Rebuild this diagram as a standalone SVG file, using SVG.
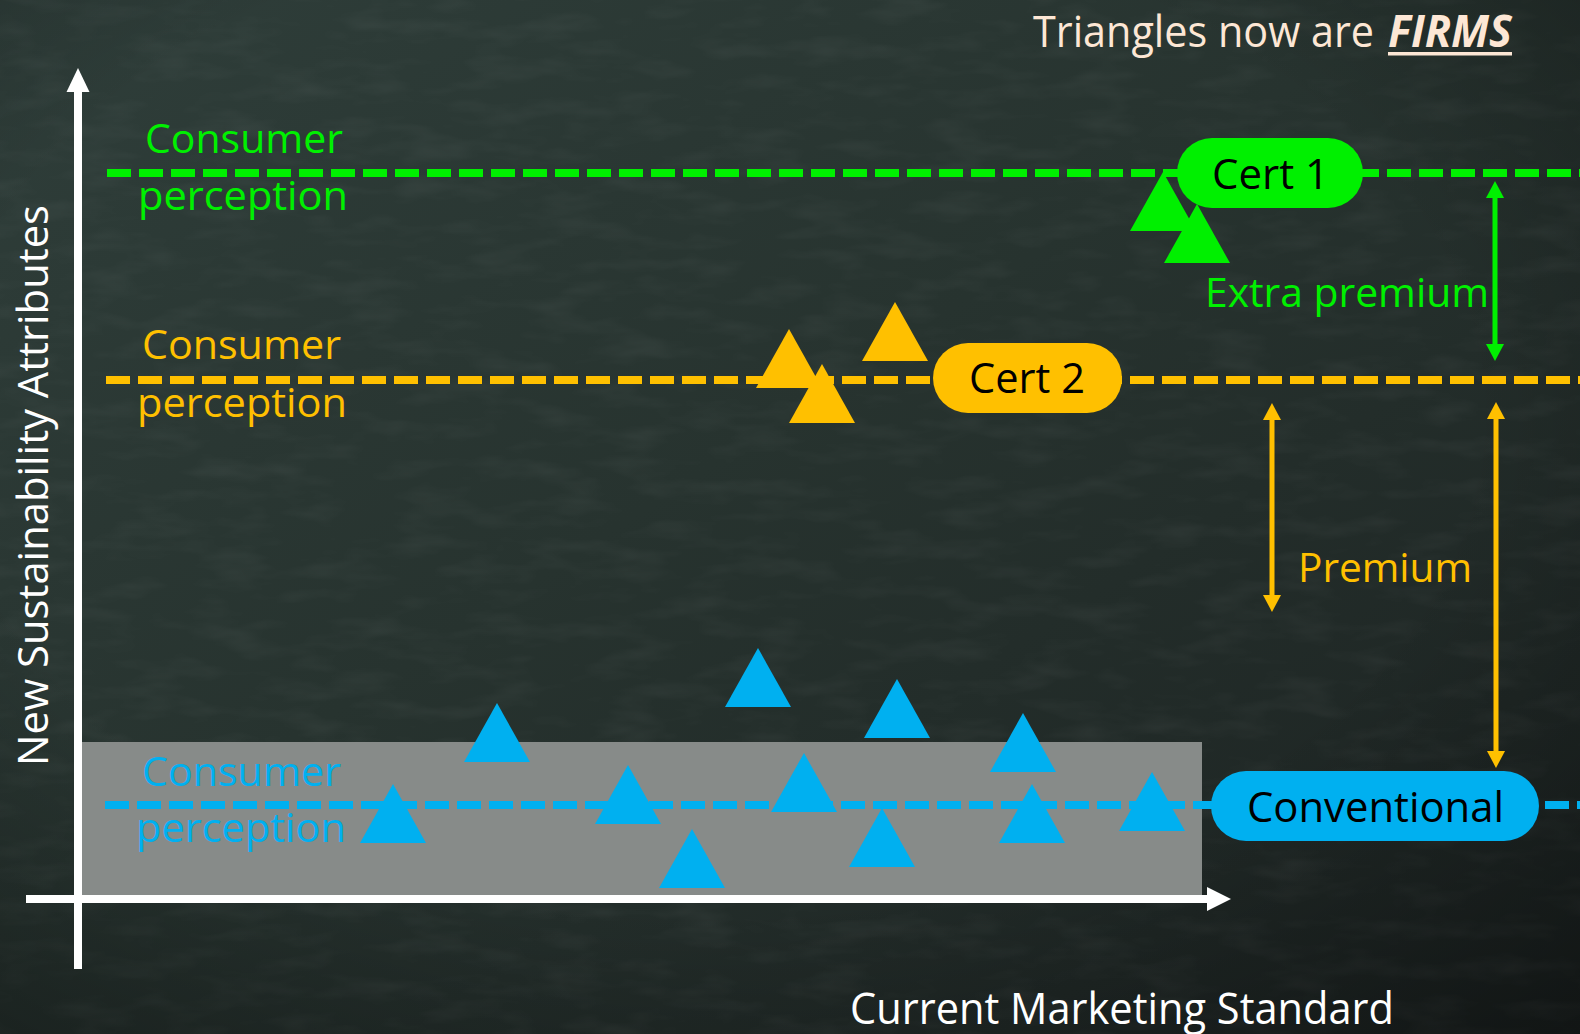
<svg xmlns="http://www.w3.org/2000/svg" xmlns:xlink="http://www.w3.org/1999/xlink" width="1580" height="1034" viewBox="0 0 1580 1034">
  <defs>
    <linearGradient id="board" x1="0" y1="0" x2="1" y2="1">
      <stop offset="0" stop-color="#2f3e3a"/>
      <stop offset="0.45" stop-color="#27332f"/>
      <stop offset="1" stop-color="#1b2120"/>
    </linearGradient>
    <radialGradient id="vignette" cx="0.45" cy="0.4" r="0.8">
      <stop offset="0.6" stop-color="#000" stop-opacity="0"/>
      <stop offset="1" stop-color="#000" stop-opacity="0.35"/>
    </radialGradient>
    <filter id="chalk" x="0" y="0" width="100%" height="100%">
      <feTurbulence type="fractalNoise" baseFrequency="0.015 0.05" numOctaves="3" seed="7"/>
      <feColorMatrix type="matrix" values="0 0 0 0 1  0 0 0 0 1  0 0 0 0 1  0 0 0 0.5 -0.22"/>
    </filter>
    <path id="tri" d="M0,0 L33,59 L-33,59 Z"/>
    <marker id="headG" viewBox="0 0 17 18" refX="1" refY="9" markerUnits="userSpaceOnUse" markerWidth="17" markerHeight="18" orient="auto-start-reverse">
      <path d="M0,0 L17,9 L0,18 Z" fill="#00f000"/>
    </marker>
    <marker id="headO" viewBox="0 0 17 18" refX="1" refY="9" markerUnits="userSpaceOnUse" markerWidth="17" markerHeight="18" orient="auto-start-reverse">
      <path d="M0,0 L17,9 L0,18 Z" fill="#ffc000"/>
    </marker>
    <style>
      .txt { font-family: "Open Sans", "Noto Sans", "Liberation Sans", sans-serif; }
      .lbl { font-size: 40px; }
      .big { font-size: 42px; }
      .g { fill: #00f000; }
      .o { fill: #ffc000; }
      .b { fill: #00b0f0; }
      .w { fill: #ffffff; }
      .k { fill: #000000; }
      .cream { fill: #fde7d5; }
      .dash { fill: none; stroke-width: 8; stroke-dasharray: 24 8; }
      .dg { stroke: #00f000; }
      .do { stroke: #ffc000; }
      .db { stroke: #00b0f0; }
      .arr { fill: none; stroke-width: 5; }
      .ag { stroke: #00f000; marker-start: url(#headG); marker-end: url(#headG); }
      .ao { stroke: #ffc000; marker-start: url(#headO); marker-end: url(#headO); }
      .axis { stroke: #ffffff; stroke-width: 8; fill: none; }
    </style>
  </defs>

  <!-- chalkboard -->
  <rect width="1580" height="1034" fill="url(#board)"/>
  <rect width="1580" height="1034" filter="url(#chalk)" opacity="0.18"/>
  <rect width="1580" height="1034" fill="url(#vignette)"/>

  <!-- shaded band of conventional firms -->
  <rect id="conventional-band" x="80" y="742" width="1122" height="154" fill="#878b89"/>

  <!-- title -->
  <g id="title" class="txt">
    <text class="cream" x="1033" y="47" font-size="44" textLength="341" lengthAdjust="spacingAndGlyphs">Triangles now are</text>
    <text class="cream" x="1388" y="47" font-size="44" font-weight="bold" font-style="italic" textLength="124" lengthAdjust="spacingAndGlyphs">FIRMS</text>
    <rect x="1388" y="52" width="124" height="3.5" class="cream"/>
  </g>

  <!-- axes -->
  <g id="axes">
    <line class="axis" x1="78" y1="969" x2="78" y2="90"/>
    <polygon class="w" points="66.5,92 89.5,92 78,68"/>
    <line class="axis" x1="26" y1="899" x2="1209" y2="899"/>
    <polygon class="w" points="1207,887 1207,911 1231,899"/>
    <text class="txt w" transform="translate(48,766) rotate(-90)" font-size="42" textLength="561" lengthAdjust="spacingAndGlyphs">New Sustainability Attributes</text>
    <text class="txt w" x="850" y="1024" font-size="44" textLength="544" lengthAdjust="spacingAndGlyphs">Current Marketing Standard</text>
  </g>

  <!-- perception levels and premium spans -->
  <g id="connectors">
    <line class="dash dg" x1="107" y1="173" x2="1580" y2="173"/>
    <line class="dash do" x1="106" y1="380" x2="1580" y2="380"/>
    <line class="dash db" x1="105" y1="805" x2="1580" y2="805"/>
    <line class="arr ag" x1="1495" y1="197" x2="1495" y2="345"/>
    <line class="arr ao" x1="1272" y1="419" x2="1272" y2="596"/>
    <line class="arr ao" x1="1496" y1="418" x2="1496" y2="752"/>
  </g>

  <!-- level labels -->
  <g id="label-cert1-level" class="txt lbl g">
    <text x="145" y="153" textLength="198" lengthAdjust="spacingAndGlyphs">Consumer</text>
    <text x="138" y="210" textLength="210" lengthAdjust="spacingAndGlyphs">perception</text>
  </g>
  <g id="label-cert2-level" class="txt lbl o">
    <text x="142" y="359" textLength="199" lengthAdjust="spacingAndGlyphs">Consumer</text>
    <text x="137" y="417" textLength="210" lengthAdjust="spacingAndGlyphs">perception</text>
  </g>
  <g id="label-conventional-level" class="txt lbl b">
    <text x="142" y="786" textLength="199" lengthAdjust="spacingAndGlyphs">Consumer</text>
    <text x="136" y="842" textLength="210" lengthAdjust="spacingAndGlyphs">perception</text>
  </g>
  <g id="label-extra-premium" class="txt lbl g">
    <text x="1205" y="307" textLength="284" lengthAdjust="spacingAndGlyphs">Extra premium</text>
  </g>
  <g id="label-premium" class="txt lbl o">
    <text x="1298" y="582" textLength="174" lengthAdjust="spacingAndGlyphs">Premium</text>
  </g>

  <!-- firms -->
  <g id="firms-cert1" class="g">
    <use href="#tri" x="1163" y="172"/>
    <use href="#tri" x="1197" y="204"/>
  </g>
  <g id="firms-cert2" class="o">
    <use href="#tri" x="789" y="329"/>
    <use href="#tri" x="822" y="364"/>
    <use href="#tri" x="895" y="302"/>
  </g>
  <g id="firms-conventional" class="b">
    <use href="#tri" x="393" y="784"/>
    <use href="#tri" x="497" y="703"/>
    <use href="#tri" x="628" y="765"/>
    <use href="#tri" x="692" y="829"/>
    <use href="#tri" x="758" y="648"/>
    <use href="#tri" x="804" y="753"/>
    <use href="#tri" x="882" y="808"/>
    <use href="#tri" x="897" y="679"/>
    <use href="#tri" x="1023" y="713"/>
    <use href="#tri" x="1032" y="784"/>
    <use href="#tri" x="1152" y="772"/>
  </g>

  <!-- certification pills -->
  <g id="cert1">
    <rect x="1177" y="138" width="186" height="70" rx="35" class="g"/>
    <text class="txt big k" x="1212" y="189" textLength="117" lengthAdjust="spacingAndGlyphs">Cert 1</text>
  </g>
  <g id="cert2">
    <rect x="933" y="343" width="189" height="70" rx="35" class="o"/>
    <text class="txt big k" x="969" y="393" textLength="116" lengthAdjust="spacingAndGlyphs">Cert 2</text>
  </g>
  <g id="conventional">
    <rect x="1211" y="771" width="328" height="70" rx="35" class="b"/>
    <text class="txt big k" x="1247" y="822" textLength="257" lengthAdjust="spacingAndGlyphs">Conventional</text>
  </g>
</svg>
